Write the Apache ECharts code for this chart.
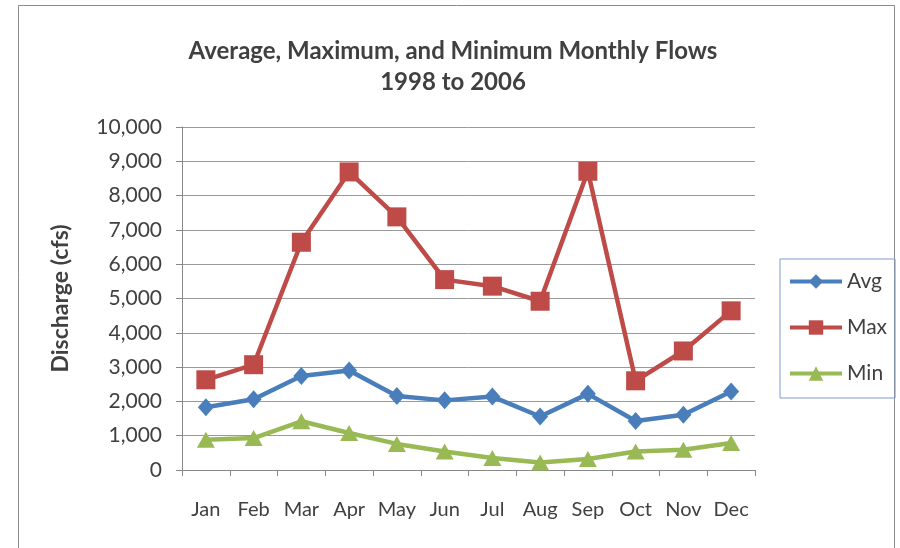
<!DOCTYPE html>
<html><head><meta charset="utf-8">
<script src="https://cdn.jsdelivr.net/npm/echarts@6/dist/echarts.min.js"></script>
<style>html,body{margin:0;padding:0;background:#fff}#c{width:900px;height:548px}</style>
</head><body><div id="c"></div>
<script>
var months = ['Jan','Feb','Mar','Apr','May','Jun','Jul','Aug','Sep','Oct','Nov','Dec'];
var avgFlow = [1830, 2060, 2740, 2900, 2160, 2030, 2140, 1560, 2220, 1430, 1610, 2290];
var maxFlow = [2630, 3070, 6640, 8690, 7380, 5550, 5360, 4920, 8710, 2600, 3470, 4640];
var minFlow = [880, 930, 1420, 1080, 760, 540, 350, 220, 320, 540, 590, 790];

var font = 'Lato, "Open Sans", sans-serif';
var chart = echarts.init(document.getElementById('c'));
chart.setOption({
  animation: false,
  backgroundColor: '#fff',
  graphic: [{type:'rect', shape:{x:18.5,y:5.5,width:876,height:560}, style:{fill:'none', stroke:'#8c8c8c', lineWidth:1}}],
  title: {
    text: 'Average, Maximum, and Minimum Monthly Flows\n1998 to 2006',
    left: 448, top: 31, textAlign: 'center',
    textStyle: {fontFamily: font, fontSize: 24, fontWeight: 'bold', color: '#404040', lineHeight: 31}
  },
  legend: {
    orient: 'vertical', left: 780, top: 259,
    padding: [12, 8, 14, 8], itemGap: 25,
    borderColor: '#7f9bd0', borderWidth: 1,
    itemWidth: 52, itemHeight: 18,
    lineStyle: {width: 4},
    textStyle: {fontFamily: font, fontSize: 21, color: '#404040'},
    data: ['Avg','Max','Min']
  },
  grid: {left: 182, right: 145, top: 127, bottom: 78},
  xAxis: {
    type: 'category', data: months, boundaryGap: true,
    axisLine: {lineStyle: {color: '#888', width: 1}},
    axisTick: {show: true, length: 6, lineStyle: {color: '#888'}},
    axisLabel: {fontFamily: font, fontSize: 20, color: '#404040', margin: 30, interval: 0}
  },
  yAxis: {
    type: 'value', min: 0, max: 10000, interval: 1000,
    name: 'Discharge (cfs)', nameLocation: 'middle', nameGap: 110, nameRotate: 90,
    nameTextStyle: {fontFamily: font, fontSize: 23, fontWeight: 'bold', color: '#404040'},
    axisLine: {show: true, lineStyle: {color: '#888'}},
    axisTick: {show: true, length: 6, lineStyle: {color: '#888'}},
    splitLine: {lineStyle: {color: '#9a9a9a', width: 1}},
    axisLabel: {fontFamily: font, fontSize: 21, color: '#404040', margin: 20,
      formatter: function(v){ return v.toLocaleString('en-US'); }}
  },
  series: [
    {name: 'Avg', type: 'line', data: avgFlow, symbol: 'diamond', symbolSize: [16, 18],
     lineStyle: {color: '#4a7ebb', width: 4.5}, itemStyle: {color: '#4a7ebb'}},
    {name: 'Max', type: 'line', data: maxFlow, symbol: 'rect', symbolSize: 19,
     lineStyle: {color: '#be4b48', width: 4.5}, itemStyle: {color: '#be4b48'}},
    {name: 'Min', type: 'line', data: minFlow, symbol: 'triangle', symbolSize: [18, 16],
     lineStyle: {color: '#98b954', width: 4.5}, itemStyle: {color: '#98b954'}}
  ]
});
</script></body></html>
